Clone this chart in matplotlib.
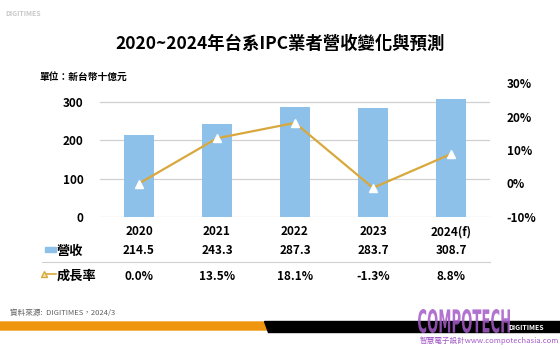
import matplotlib
matplotlib.use('Agg')
import matplotlib.pyplot as plt
from matplotlib.patches import Polygon, Rectangle, PathPatch
from matplotlib.lines import Line2D
from matplotlib.textpath import TextPath
from matplotlib.font_manager import FontProperties
from matplotlib.transforms import blended_transform_factory, Affine2D

plt.rcParams['font.family'] = ['Noto Sans CJK TC', 'DejaVu Sans']

years = ['2020', '2021', '2022', '2023', '2024(f)']
revenue = [214.5, 243.3, 287.3, 283.7, 308.7]
growth = [0.0, 13.5, 18.1, -1.3, 8.8]
rev_labels = ['214.5', '243.3', '287.3', '283.7', '308.7']
growth_labels = ['0.0%', '13.5%', '18.1%', '-1.3%', '8.8%']

bar_color = '#8EC1EA'
line_color = '#D8A83C'

fig = plt.figure(figsize=(5.6, 3.5), dpi=100)
ax = fig.add_axes([100 / 560, 1 - 217 / 350, 390 / 560, 134 / 350])
ax2 = ax.twinx()

x = list(range(len(years)))
ax.bar(x, revenue, width=0.39, color=bar_color, zorder=2)
ax.set_ylim(0, 350)
ax.set_xlim(-0.5, 4.5)
ax.set_yticks([0, 100, 200, 300])
ax.yaxis.grid(True, color='#D0D0D0', lw=0.9, zorder=0)
ax.set_axisbelow(True)
ax.set_xticks(x)
ax.set_xticklabels(years, fontsize=8.5, fontweight='bold')
ax.tick_params(axis='x', length=0, pad=6)
ax.tick_params(axis='y', length=0, pad=12, labelsize=8.5)
for lab in ax.get_yticklabels():
    lab.set_fontweight('bold')

ax2.plot(x, growth, color=line_color, lw=1.6, marker='^', markersize=5.5,
         markerfacecolor='white', markeredgecolor='white', zorder=3)
ax2.set_ylim(-10, 30)
ax2.set_yticks([-10, 0, 10, 20, 30])
ax2.set_yticklabels(['-10%', '0%', '10%', '20%', '30%'], fontsize=8.5, fontweight='bold')
ax2.tick_params(axis='y', length=0, pad=12)

for a in (ax, ax2):
    for s in a.spines.values():
        s.set_visible(False)

# data table under the chart
tr = blended_transform_factory(ax.transData, fig.transFigure)
for i in x:
    fig.text(i, 1 - 251 / 350, rev_labels[i], transform=tr, ha='center', va='center',
             fontsize=8.5, fontweight='bold')
    fig.text(i, 1 - 276 / 350, growth_labels[i], transform=tr, ha='center', va='center',
             fontsize=8.5, fontweight='bold')

fig.lines.append(Line2D([42 / 560, 490 / 560], [1 - 262 / 350] * 2, transform=fig.transFigure,
                        color='#D0D0D0', lw=0.8))
fig.patches.append(Rectangle((45 / 560, 1 - 252 / 350), 11 / 560, 5 / 350,
                             transform=fig.transFigure, color=bar_color))
fig.text(57 / 560, 1 - 251 / 350, '營收', fontsize=9.5, fontweight='bold', va='center')
fig.lines.append(Line2D([44 / 560, 56 / 560], [1 - 274 / 350] * 2, transform=fig.transFigure,
                        color=line_color, lw=1.2, marker='^', markersize=4,
                        markevery=[0], markerfacecolor='#F4E2B0', markeredgecolor=line_color))
fig.text(57 / 560, 1 - 276 / 350, '成長率', fontsize=9.5, fontweight='bold', va='center')

# titles
fig.text(0.5, 1 - 44 / 350, '2020~2024年台系IPC業者營收變化與預測', ha='center', va='center',
         fontsize=12.5, fontweight='bold')
fig.text(40 / 560, 1 - 77 / 350, '單位：新台幣十億元', fontsize=7, fontweight='bold', va='center')
fig.text(5 / 560, 1 - 14 / 350, 'DIGITIMES', fontsize=5, color='#C8C8C8', va='center',
         fontweight='bold')

# footer
fig.text(10 / 560, 1 - 313 / 350, '資料來源:  DIGITIMES，2024/3', fontsize=5.5, color='#606060',
         va='center')
fig.patches.append(Polygon([(0, 1 - 322 / 350), (265 / 560, 1 - 322 / 350),
                            (268 / 560, 1 - 330 / 350), (0, 1 - 330 / 350)],
                           transform=fig.transFigure, color='#F0960E'))
fig.patches.append(Polygon([(264 / 560, 1 - 321 / 350), (1, 1 - 321 / 350),
                            (1, 1 - 332 / 350), (268 / 560, 1 - 332 / 350)],
                           transform=fig.transFigure, color='black'))

# condensed watermark text, squeezed into its box in pixel units
tp = TextPath((0, 0), 'COMPOTECH', size=10, prop=FontProperties(family='DejaVu Sans', weight='bold'))
bb = tp.get_extents()
sx = 92 / bb.width
sy = 24 / bb.height
wm = Affine2D().translate(-bb.x0, -bb.y0).scale(sx, sy).translate(418, 350 - 333)
fig.patches.append(PathPatch(tp, transform=wm + fig.dpi_scale_trans.frozen().scale(1 / fig.dpi),
                             facecolor='#A55BC8', edgecolor='none', alpha=0.85))
fig.text(508 / 560, 1 - 327 / 350, 'DIGITIMES', fontsize=5, color='white', va='center',
         fontweight='bold')
fig.text(420 / 560, 1 - 341 / 350, '智慧電子設計www.compotechasia.com', fontsize=5.5,
         color='#A55BC8', va='center')

fig.savefig('out.png', dpi=100, facecolor='white')
